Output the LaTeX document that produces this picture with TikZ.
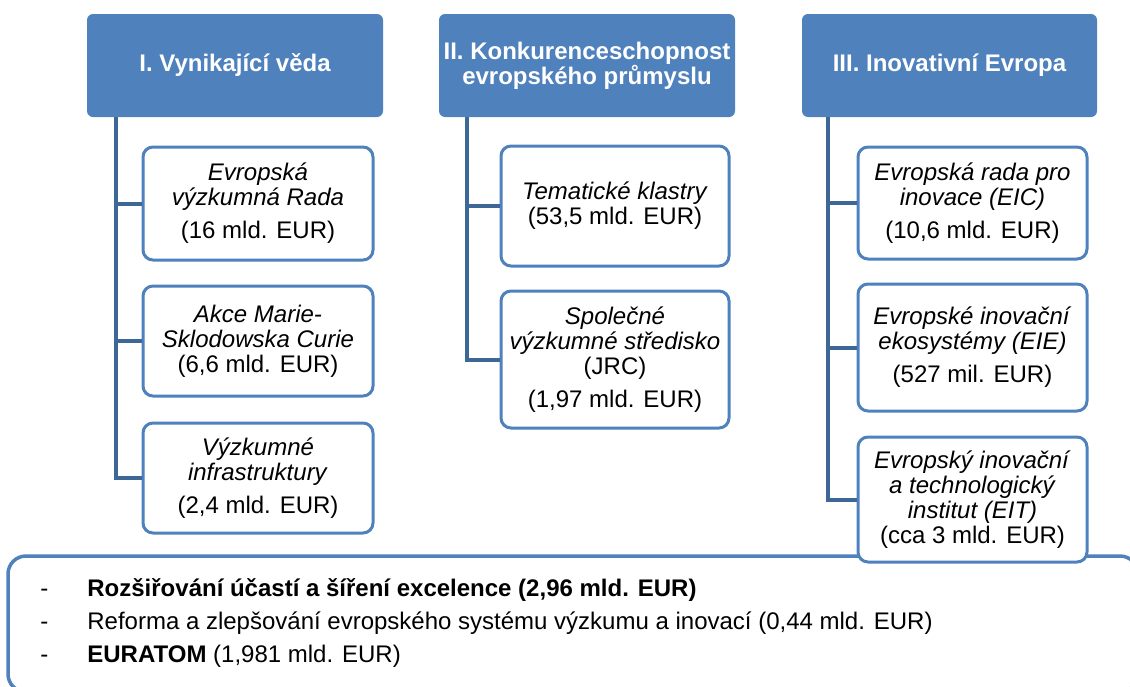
\documentclass[tikz,border=0pt]{standalone}
\usepackage{fontspec}
\setmainfont{Liberation Sans}
\usepackage{xcolor}
\usepackage{tikz}
\definecolor{hdrblue}{HTML}{4F81BD}
\definecolor{trunkblue}{HTML}{3C6797}
\begin{document}
\begin{tikzpicture}[x=.5pt,y=-.5pt,font=\fontsize{12}{12.5}\selectfont]
\tikzset{head/.style={rounded corners=3pt,fill=hdrblue,text=white,font=\fontsize{12}{12.5}\selectfont\bfseries,
 align=center,inner sep=0pt,minimum width=148pt,minimum height=51.5pt},
item/.style={rounded corners=5pt,draw=hdrblue,line width=1.5pt,fill=white,align=center,inner sep=0pt,minimum width=115pt},
trunk/.style={draw=trunkblue,line width=2pt},
panel/.style={rounded corners=9pt,draw=hdrblue,line width=1.75pt}}
\useasboundingbox (0,0) rectangle (1130,686);
\clip (0,0) rectangle (1130,686);
% bottom panel
\draw[panel] (8,556) rectangle (1138,692);
\node (notes) [anchor=west,align=left,inner sep=0pt,font=\fontsize{12}{16.5}\selectfont] at (40,623)
 {\makebox[23.5pt][l]{-}\textbf{Rozšiřování účastí a šíření excelence (2,96 mld. EUR)}\\
  \makebox[23.5pt][l]{-}Reforma a zlepšování evropského systému výzkumu a inovací (0,44 mld. EUR)\\
  \makebox[23.5pt][l]{-}\textbf{EURATOM} (1,981 mld. EUR)};
% I: excellent science
\node[head] (h1) at (235,65.5) {I. Vynikající věda};
\node[item,minimum height=56.5pt] (c1a) at (258,203.5)
 {\textit{Evropská}\\\textit{výzkumná Rada}\\[4pt](16 mld. EUR)};
\node[item,minimum height=55pt] (c1b) at (258,341)
 {\textit{Akce Marie-}\\\textit{Sklodowska Curie}\\(6,6 mld. EUR)};
\node[item,minimum height=55pt] (c1c) at (258,478)
 {\textit{Výzkumné}\\\textit{infrastruktury}\\[4pt](2,4 mld. EUR)};
\coordinate (t1) at (116,117);
\draw[trunk] (t1) |- (c1c.west);
\foreach \n in {c1a,c1b}{\draw[trunk] (t1 |- \n.west) -- (\n.west);}
% II: industry
\node[head] (h2) at (587,65.5) {II. Konkurenceschopnost\\evropského průmyslu};
\node[item,minimum width=114pt,minimum height=60pt] (c2a) at (615,206)
 {\textit{Tematické klastry}\\(53,5 mld. EUR)};
\node[item,minimum width=114pt,minimum height=68.5pt] (c2b) at (615,359.5)
 {\textit{Společné}\\\textit{výzkumné středisko}\\(JRC)\\[4pt](1,97 mld. EUR)};
\coordinate (t2) at (467,117);
\draw[trunk] (t2) |- (c2b.west);
\draw[trunk] (t2 |- c2a.west) -- (c2a.west);
% III: innovative Europe
\node[head,minimum width=147.5pt] (h3) at (949.5,65.5) {III. Inovativní Evropa};
\node[item,minimum width=114.5pt,minimum height=56pt] (c3a) at (972.5,203)
 {\textit{Evropská rada pro}\\\textit{inovace (EIC)}\\[4pt](10,6 mld. EUR)};
\node[item,minimum width=114.5pt,minimum height=63.5pt] (c3b) at (972.5,347.5)
 {\textit{Evropské inovační}\\\textit{ekosystémy (EIE)}\\[4pt](527 mil. EUR)};
\node[item,minimum width=114.5pt,minimum height=62.5pt] (c3c) at (972.5,499.5)
 {\textit{Evropský inovační}\\\textit{a technologický}\\\textit{institut (EIT)}\\(cca 3 mld. EUR)};
\coordinate (t3) at (828,117);
\draw[trunk] (t3) |- (c3c.west);
\foreach \n in {c3a,c3b}{\draw[trunk] (t3 |- \n.west) -- (\n.west);}
\end{tikzpicture}
\end{document}
